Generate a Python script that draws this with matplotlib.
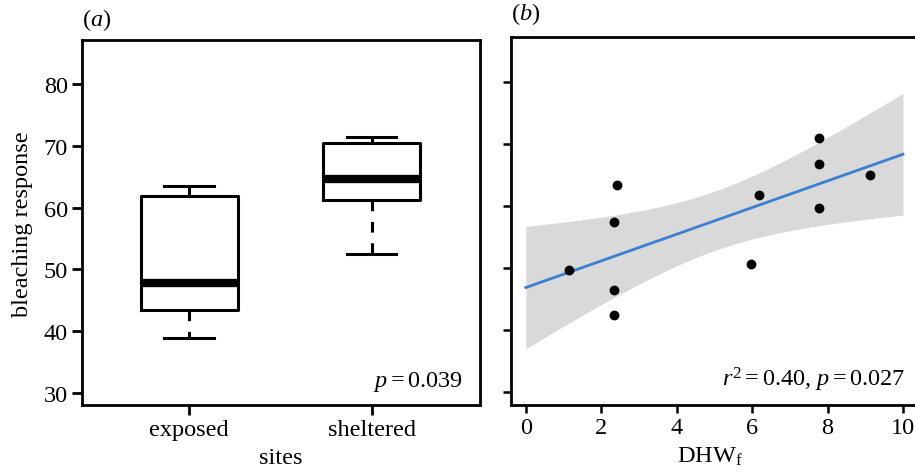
import numpy as np
import matplotlib
matplotlib.use("Agg")
import matplotlib.pyplot as plt

plt.rcParams['font.family'] = ['Liberation Serif', 'DejaVu Serif']
plt.rcParams['mathtext.fontset'] = 'custom'
plt.rcParams['mathtext.rm'] = 'Liberation Serif'
plt.rcParams['mathtext.it'] = 'Liberation Serif:italic'

# panel (a) box summaries
sites = ['exposed', 'sheltered']
whis_lo = [38.9, 52.5]
q1 = [43.4, 61.2]
med = [47.8, 64.6]
q3 = [61.9, 70.4]
whis_hi = [63.5, 71.4]

# panel (b) points
dhw = [1.15, 2.33, 2.43, 2.33, 2.33, 5.97, 6.18, 7.78, 7.78, 7.78, 9.13]
bleach = [49.7, 57.4, 63.3, 46.5, 42.4, 50.6, 61.7, 70.9, 66.8, 59.6, 65.0]

fs = 17.5

fig = plt.figure(figsize=(9.15, 4.77), dpi=100)
ax1 = fig.add_axes([82/915, 1-406/477, 398/915, 365/477])
ax2 = fig.add_axes([510.7/915, 1-406/477, 404.3/915, 368.3/477])

# --- (a) boxplot
stats = []
for i in range(len(sites)):
    stats.append({'label': sites[i], 'whislo': whis_lo[i], 'q1': q1[i], 'med': med[i],
                  'q3': q3[i], 'whishi': whis_hi[i], 'fliers': []})
ax1.bxp(stats, positions=[1, 2], widths=0.53, showfliers=False,
        boxprops=dict(color='black', linewidth=2.2),
        medianprops=dict(color='black', linewidth=6, solid_capstyle='butt'),
        whiskerprops=dict(color='black', linewidth=2.2, linestyle=(0, (3.5, 3.5))),
        capprops=dict(color='black', linewidth=2.2), capwidths=0.27)
ax1.set_xlim(0.414, 2.592)
ax1.set_ylim(28.1, 87.06)
ax1.set_yticks([30, 40, 50, 60, 70, 80])
ax1.set_xticks([1, 2])
ax1.set_xticklabels(sites)
ax1.tick_params(length=7, width=2, labelsize=fs, pad=3)
for s in ax1.spines.values():
    s.set_linewidth(2)
ax1.text(0.957, 0.052, r'$p = 0.039$', transform=ax1.transAxes, ha='right',
         va='baseline', fontsize=fs)

# --- (b) scatter with linear fit and 95% band
x = np.array(dhw)
y = np.array(bleach)
slope, icpt = np.polyfit(x, y, 1)
n = len(x)
resid = y - (icpt + slope * x)
s_err = np.sqrt(np.sum(resid ** 2) / (n - 2))
t_val = 2.262
xs = np.linspace(0, 10, 200)
ys = icpt + slope * xs
half = t_val * s_err * np.sqrt(1 / n + (xs - x.mean()) ** 2 / np.sum((x - x.mean()) ** 2))
ax2.fill_between(xs, ys - half, ys + half, color='#d9d9d9', linewidth=0, zorder=1)
ax2.plot(xs, ys, color='#3b7fd0', linewidth=2, zorder=2)
ax2.scatter(x, y, s=50, color='black', zorder=3, linewidths=0)
ax2.set_xlim(-0.4, 10.32)
ax2.set_ylim(27.95, 87.25)
ax2.set_xticks([0, 2, 4, 6, 8, 10])
ax2.set_yticks([30, 40, 50, 60, 70, 80])
ax2.set_yticklabels([])
ax2.tick_params(length=6, width=1.8, labelsize=fs, pad=3)
ax2.spines['right'].set_visible(False)
for k in ['left', 'bottom', 'top']:
    ax2.spines[k].set_linewidth(2)
ax2.text(0.975, 0.054, r'$r^2 = 0.40$, $p = 0.027$', transform=ax2.transAxes,
         ha='right', va='baseline', fontsize=fs)

fig.text(82/915, 1-20/477, r'($a$)', ha='left', va='center', fontsize=fs)
fig.text(511/915, 1-14/477, r'($b$)', ha='left', va='center', fontsize=fs)
fig.text(23/915, 1-224/477, 'bleaching response', rotation=90, ha='center',
         va='center', fontsize=fs)
fig.text(281/915, 1-459/477, 'sites', ha='center', va='center', fontsize=fs)
fig.text(710/915, 1-457/477, r'DHW$_\mathrm{f}$', ha='center', va='center', fontsize=fs)

fig.savefig('out.png', dpi=100)
